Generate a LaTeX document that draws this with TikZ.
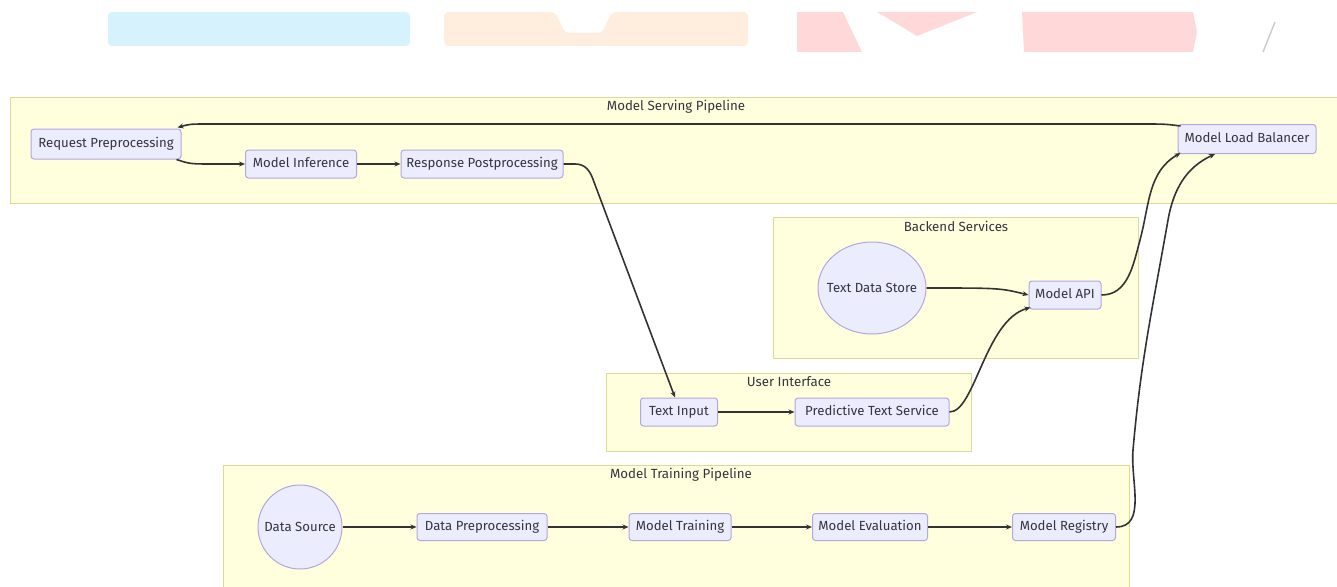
\documentclass[tikz,border=0pt]{standalone}
\usepackage{fontspec}
\setmainfont{Fira Sans}
\usetikzlibrary{arrows.meta,shapes.geometric}
\definecolor{clfill}{HTML}{FFFFDE}
\definecolor{cldraw}{HTML}{D9DB96}
\definecolor{ndfill}{HTML}{ECECFF}
\definecolor{nddraw}{HTML}{B4A6DE}
\definecolor{txt}{HTML}{35353F}
\definecolor{edgec}{HTML}{333333}
\tikzset{
  cluster/.style={fill=clfill, draw=cldraw, line width=1},
  cltitle/.style={font=\fontsize{13.3}{15}\selectfont, text=txt},
  box/.style={rectangle, rounded corners=3, fill=ndfill, draw=nddraw, line width=1,
     font=\fontsize{13.2}{15}\selectfont, text=txt, minimum height=28, inner xsep=4,
     text height=9.6, text depth=3},
  round/.style={ellipse, fill=ndfill, draw=nddraw, line width=1,
     font=\fontsize{13.2}{15}\selectfont, text=txt, inner xsep=-8, inner ysep=0},
  edge/.style={draw=edgec, line width=1.6, -{Stealth[length=6,width=5]}},
}
\begin{document}
\begin{tikzpicture}[x=1pt,y=-1pt]
\useasboundingbox (0,0) rectangle (1337,586);
\clip (0,0) rectangle (1337,586);
% faded strip at top
\fill[cyan!16, rounded corners=4] (108,12) -- (410,12) -- (410,46) -- (108,46) -- cycle;
\fill[orange!13, rounded corners=4] (444,12) -- (555,12) -- (560,22) -- (565,33) -- (602,33) -- (607,22) -- (612,12) -- (748,12) -- (748,46) -- (444,46) -- cycle;
\fill[red!15] (797,12) -- (843,12) -- (862,52) -- (797,52) -- cycle;
\fill[red!15] (877,12) -- (977,12) -- (917,36) -- cycle;
\fill[red!15] (1022,12) -- (1193,12) -- (1197,32) -- (1193,52) -- (1024,52) -- cycle;
\draw[black!20, line width=1.5] (1275,22) -- (1263,52);
% clusters
\draw[cluster] (10,97) rectangle (1340,203);
\node[cltitle] (t1) at (676,107) {Model Serving Pipeline};
\draw[cluster] (773,217) rectangle (1138,358);
\node[cltitle] (t2) at (956,226) {Backend Services};
\draw[cluster] (606,373) rectangle (971,451);
\node[cltitle] (t3) at (789,382) {User Interface};
\draw[cluster] (223,465) rectangle (1129,600);
\node[cltitle] (t4) at (681,475) {Model Training Pipeline};
% nodes
\node[box, minimum width=150, minimum height=30] (rp) at (106,144) {Request Preprocessing};
\node[box, minimum width=111] (mi) at (301,164) {Model Inference};
\node[box, minimum width=162] (rpp) at (482,164) {Response Postprocessing};
\node[box, minimum width=138, minimum height=29] (mlb) at (1247,139) {Model Load Balancer};
\node[round, minimum width=108, minimum height=92] (tds) at (872,288) {Text Data Store};
\node[box, minimum width=72] (mapi) at (1065,295) {Model API};
\node[box, minimum width=77] (ti) at (679,412) {Text Input};
\node[box, minimum width=154] (pts) at (872,412) {Predictive Text Service};
\node[round, minimum width=84, minimum height=84] (ds) at (300,527) {Data Source};
\node[box, minimum width=130, minimum height=27] (dp) at (482,527) {Data Preprocessing};
\node[box, minimum width=102, minimum height=27] (mt) at (680,527) {Model Training};
\node[box, minimum width=115, minimum height=27] (me) at (870,527) {Model Evaluation};
\node[box, minimum width=103, minimum height=27] (mr) at (1064,527) {Model Registry};
% edges
\draw[edge] ([shift={(3,2)}]mlb.north west) .. controls (1165,124) .. (1140,124) -- (210,124) .. controls (190,124) .. ([shift={(-4,-1)}]rp.north east);
\draw[edge] ([shift={(-5,0)}]rp.south east) .. controls (190,164) .. (215,164) -- (mi.west);
\draw[edge] (mi.east) -- (rpp.west);
\draw[edge] (rpp.east) -- (575,164) .. controls (585,164) and (590,170) .. (594,182) -- ([xshift=-4]ti.north);
\draw[edge] (ti.east) -- (pts.west);
\draw[edge] (pts.east) .. controls (975,412) and (985,320) .. ([shift={(2,-2)}]mapi.south west);
\draw[edge] (tds.east) .. controls (1000,288) .. (mapi.west);
\draw[edge] (mapi.east) to[out=0,in=-105] (1140,240) to[out=75,in=210] ([shift={(3,-1)}]mlb.south west);
\draw[edge] (ds.east) -- (dp.west);
\draw[edge] (dp.east) -- (mt.west);
\draw[edge] (mt.east) -- (me.west);
\draw[edge] (me.east) -- (mr.west);
\draw[edge] (mr.east) to[out=0,in=-95] (1133,450) to[out=85,in=-100] (1168,220) to[out=80,in=205] ([xshift=-32]mlb.south);
\end{tikzpicture}
\end{document}
